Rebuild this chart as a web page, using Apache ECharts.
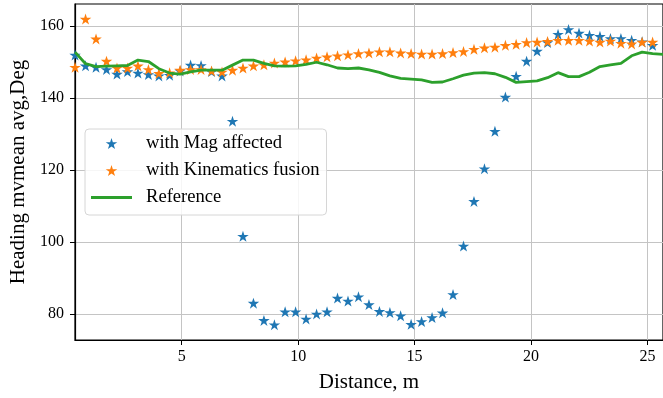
<!DOCTYPE html>
<html>
<head>
<meta charset="utf-8">
<script src="https://cdn.jsdelivr.net/npm/echarts@6/dist/echarts.min.js"></script>
<style>
html,body{margin:0;padding:0;background:#fff;}
#chart{width:663px;height:398px;}
</style>
</head>
<body>
<div id="chart"></div>
<script>
var distance = [0.42,0.87,1.32,1.77,2.22,2.67,3.12,3.57,4.02,4.48,4.93,5.38,5.83,6.28,6.73,7.18,7.63,8.08,8.53,8.98,9.44,9.89,10.34,10.79,11.24,11.69,12.14,12.59,13.04,13.49,13.94,14.40,14.85,15.30,15.75,16.20,16.65,17.10,17.55,18.00,18.45,18.90,19.36,19.81,20.26,20.71,21.16,21.61,22.06,22.51,22.96,23.41,23.86,24.32,24.77,25.22,25.67];
var magAffected = [152.0,149.0,148.6,148.0,146.7,147.4,147.0,146.6,146.2,146.4,147.6,149.2,149.1,147.4,146.2,133.6,101.6,83.0,78.2,77.0,80.6,80.6,78.6,80.0,80.6,84.4,83.6,84.8,82.6,80.7,80.4,79.5,77.1,77.9,79.0,80.3,85.4,98.9,111.3,120.4,130.8,140.3,146.1,150.3,153.1,155.5,157.8,159.1,158.1,157.5,157.2,156.6,156.6,156.1,155.7,154.7];
var kinematicsFusion = [148.6,162.0,156.5,150.3,148.4,148.4,149.0,148.0,146.9,147.1,147.8,148.0,148.0,147.6,147.3,147.8,148.4,149.0,149.3,149.8,150.1,150.4,150.7,151.2,151.5,151.8,152.1,152.4,152.6,152.9,152.9,152.6,152.4,152.3,152.3,152.4,152.7,153.0,153.6,154.0,154.2,154.7,155.0,155.5,155.6,155.8,156.1,156.1,156.1,155.9,155.6,155.9,155.3,155.1,155.6,155.6];
var reference = [152.8,149.6,148.8,148.9,149.0,149.1,150.6,150.2,148.2,147.0,146.7,147.3,147.8,147.8,147.8,149.2,150.6,150.6,149.7,149.0,148.9,149.0,149.4,150.0,149.3,148.4,148.2,148.4,147.9,147.2,146.2,145.5,145.3,145.1,144.4,144.5,145.4,146.4,147.0,147.1,146.8,145.8,144.4,144.6,144.8,145.7,147.1,146.0,146.0,147.2,148.8,149.3,149.7,151.8,152.8,152.4,152.2];
var xTicks = [5,10,15,20,25];
var yTicks = [80,100,120,140,160];
var seriesNames = ['with Mag affected','with Kinematics fusion','Reference'];

function pairs(xs, ys){ var out=[]; for (var i=0;i<ys.length;i++) out.push([xs[i], ys[i]]); return out; }

var STAR = 'path://M100,0L122.45,69.1L195.1,69.1L136.3,111.8L158.8,180.9L100,138.2L41.2,180.9L63.7,111.8L4.9,69.1L77.55,69.1Z';
var LINEICON = 'path://M0,0L40,0L40,3L0,3Z';
var FONT = '"Liberation Serif","Times New Roman",serif';

var chart = echarts.init(document.getElementById('chart'), null, {renderer:'canvas'});
chart.setOption({
  animation: false,
  backgroundColor: '#ffffff',
  grid: {left: 75, top: 4, right: -5.4, bottom: 58, show: true, borderColor: '#000', borderWidth: 1.2, backgroundColor: 'transparent'},
  xAxis: {
    type: 'value', min: 0.417, max: 25.667,
    name: 'Distance, m', nameLocation: 'middle', nameGap: 32,
    nameTextStyle: {fontFamily: FONT, fontSize: 21, color: '#000'},
    axisLine: {show: true, lineStyle: {color: '#000', width: 1.2}},
    axisTick: {show: true, length: 5, inside: false, lineStyle: {color: '#000', width: 1}, customValues: xTicks},
    axisLabel: {fontFamily: FONT, fontSize: 16, color: '#000', margin: 9, customValues: xTicks},
    splitLine: {show: true, lineStyle: {color: '#c4c4c4', width: 1}}
  },
  yAxis: {
    type: 'value', min: 72.75, max: 166.2,
    name: 'Heading mvmean avg,Deg', nameLocation: 'middle', nameGap: 41,
    nameTextStyle: {fontFamily: FONT, fontSize: 21, color: '#000'},
    axisLine: {show: true, lineStyle: {color: '#000', width: 1.2}},
    axisTick: {show: true, length: 5, inside: false, lineStyle: {color: '#000', width: 1}, customValues: yTicks},
    axisLabel: {fontFamily: FONT, fontSize: 16, color: '#000', margin: 11, customValues: yTicks},
    splitLine: {show: true, lineStyle: {color: '#c4c4c4', width: 1}}
  },
  legend: {
    orient: 'vertical', left: 85, top: 129,
    backgroundColor: 'rgba(255,255,255,0.85)', borderColor: '#d6d6d6', borderWidth: 1, borderRadius: 4,
    padding: [5, 7, 8, 6],
    itemWidth: 41, itemHeight: 11, itemGap: 8,
    textStyle: {fontFamily: FONT, fontSize: 18.6, color: '#000', lineHeight: 18, padding: [0,0,0,9]},
    data: [
      {name: seriesNames[0], icon: STAR},
      {name: seriesNames[1], icon: STAR},
      {name: seriesNames[2], icon: LINEICON}
    ]
  },
  series: [
    {name: seriesNames[0], type: 'scatter', z: 2, symbol: STAR, symbolSize: [11.5, 11],
     itemStyle: {color: '#1f77b4', opacity: 1}, data: pairs(distance, magAffected)},
    {name: seriesNames[1], type: 'scatter', z: 3, symbol: STAR, symbolSize: [11.5, 11],
     itemStyle: {color: '#ff7f0e', opacity: 1}, data: pairs(distance, kinematicsFusion)},
    {name: seriesNames[2], type: 'line', z: 4, showSymbol: false, symbol: 'none',
     lineStyle: {color: '#2ca02c', width: 2.8}, itemStyle: {color: '#2ca02c'},
     data: pairs(distance, reference)}
  ]
});
</script>
</body>
</html>
